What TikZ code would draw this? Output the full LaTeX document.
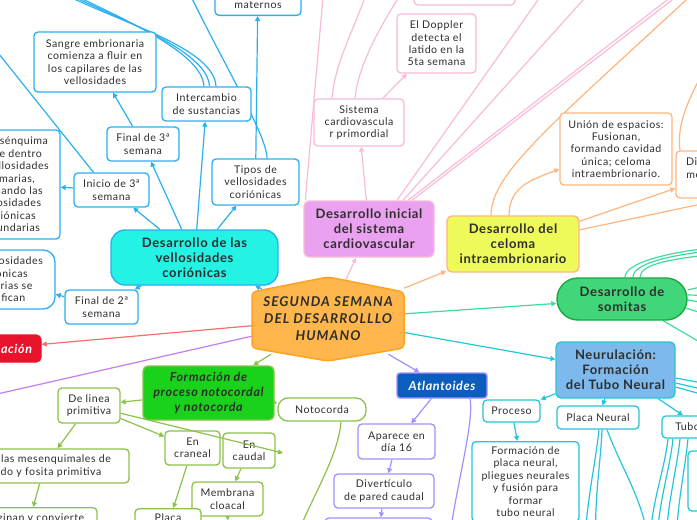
\documentclass[tikz,border=0pt]{standalone}
\usepackage{fontspec}
\setmainfont{Lato}[LetterSpace=5]
\usetikzlibrary{arrows.meta,calc,backgrounds}
\definecolor{txt}{HTML}{2E2E2E}
\definecolor{cblue}{HTML}{2AB0F0}
\definecolor{vellf}{HTML}{23F2E4}
\definecolor{cpink}{HTML}{F8BBD9}
\definecolor{cardf}{HTML}{EAA2F0}
\definecolor{corange}{HTML}{FFB57E}
\definecolor{celf}{HTML}{EEFA5A}
\definecolor{cteal}{HTML}{3DDC9E}
\definecolor{somf}{HTML}{42D67A}
\definecolor{somd}{HTML}{1BA83C}
\definecolor{ccyan}{HTML}{26C6DA}
\definecolor{neurf}{HTML}{7DB9EC}
\definecolor{clav}{HTML}{A290FF}
\definecolor{atlf}{HTML}{0B5EBE}
\definecolor{cgreen}{HTML}{8BC34A}
\definecolor{notof}{HTML}{1AD21A}
\definecolor{credl}{HTML}{F2706A}
\definecolor{redf}{HTML}{E8132B}
\definecolor{cpurp}{HTML}{C67CF5}
\definecolor{cenf}{HTML}{FFB74D}
\definecolor{cend}{HTML}{FFA21F}
\newcommand\fsmall{\fontsize{10.6}{12.4}\selectfont}
\newcommand\fbig{\fontsize{13}{15}\selectfont\bfseries}
\newcommand\fital{\fontsize{12.5}{15}\selectfont\bfseries\itshape}
\newcommand\fcen{\fontsize{13.5}{17}\selectfont\addfontfeatures{LetterSpace=8}\bfseries\itshape}
\begin{document}
\begin{tikzpicture}[x=1pt,y=-1pt,
 bx/.style={draw=#1, rounded corners=4pt, line width=1.3pt, fill=white, align=center, font=\fsmall, text=txt, inner sep=0pt},
 hd/.style 2 args={draw=#2, fill=#1, rounded corners=5pt, line width=1.4pt, align=center, font=\fbig, text=txt, inner sep=0pt},
 ln/.style={draw=#1, line width=1.2pt},
 arr/.style={-{Triangle[length=5pt,width=5pt]}},
]
\useasboundingbox (0,0) rectangle (697,520);
\clip (0,0) rectangle (697,520);

% ---------- central ----------
\draw[fill=cenf, draw=cend, line width=1.5pt, rounded corners=4pt]
  (252,292) -- (328,277) -- (404,292) -- (404,348) -- (328,361) -- (252,348) -- cycle;
\node[align=center, font=\fcen, text=txt, minimum width=152pt, minimum height=70pt, inner sep=0pt] (central) at (328,319)
  {SEGUNDA SEMANA\\DEL DESARROLLLO\\HUMANO};

% ---------- vellosidades (blue) ----------
\node[hd={vellf}{cblue}, rounded corners=14pt, minimum width=167pt, minimum height=55pt] (vell) at (194.5,257.5) {Desarrollo de las\\vellosidades\\coriónicas};
\node[bx=cblue, anchor=south, minimum width=86pt, minimum height=56pt] (mat) at (258,16) {};
\node[font=\fsmall, text=txt, inner sep=0pt] (matt) at (258,5) {maternos};
\node[bx=cblue, minimum width=122pt, minimum height=60pt] (sangre) at (95,62) {Sangre embrionaria\\comienza a fluir en\\los capilares de las\\vellosidades};
\node[bx=cblue, minimum width=89pt, minimum height=34pt] (inter) at (206.5,104) {Intercambio\\de sustancias};
\node[bx=cblue, minimum width=72pt, minimum height=34pt] (fin3) at (143,144) {Final de 3ª\\semana};
\node[bx=cblue, minimum width=87pt, minimum height=46pt] (tipos) at (255.5,182) {Tipos de\\vellosidades\\coriónicas};
\node[bx=cblue, minimum width=75pt, minimum height=34pt] (ini3) at (111.5,190) {Inicio de 3ª\\semana};
\node[bx=cblue, minimum width=100pt, minimum height=109pt] (mes) at (10,184.5) {El mesénquima\\crece dentro\\de vellosidades\\primarias,\\formando las\\vellosidades\\coriónicas\\secundarias};
\node[bx=cblue, rounded corners=12pt, minimum width=106pt, minimum height=59pt] (mes2) at (2,279.5) {Las vellosidades\\coriónicas\\primarias se\\ramifican};
\node[bx=cblue, minimum width=73pt, minimum height=34pt] (fin2) at (101.5,307) {Final de 2ª\\semana};

% ---------- cardiovascular (pink) ----------
\node[hd={cardf}{cpink}, minimum width=130pt, minimum height=56pt] (cardio) at (369,229) {Desarrollo inicial\\del sistema\\cardiovascular};
\node[bx=cpink, minimum width=90pt, minimum height=47pt] (sist) at (359,122.5) {Sistema\\cardiovascula\\r primordial};
\node[bx=cpink, minimum width=79pt, minimum height=59pt] (dop) at (436.5,43.5) {El Doppler\\detecta el\\latido en la\\5ta semana};
\node[bx=cpink, minimum width=101pt, minimum height=45pt] (ptop) at (464.5,-17.5) {};

% ---------- celoma (orange) ----------
\node[hd={celf}{corange}, minimum width=132pt, minimum height=56pt] (celoma) at (513,244) {Desarrollo del\\celoma\\intraembrionario};
\node[bx=corange, minimum width=112pt, minimum height=72pt] (union) at (616,149) {Unión de espacios:\\Fusionan,\\formando cavidad\\única; celoma\\intraembrionario.};
\node[bx=corange, minimum width=80pt, minimum height=47pt] (div) at (716,174.5) {División del\\mesodermo\\lateral};

% ---------- somitas ----------
\node[hd={somf}{somd}, rounded corners=21pt, minimum width=130pt, minimum height=42pt] (som) at (622,299) {Desarrollo de\\somitas};

% ---------- neurulacion (cyan) ----------
\node[hd={neurf}{ccyan}, minimum width=119pt, minimum height=56pt] (neuro) at (615.5,370) {Neurulación:\\Formación\\del Tubo Neural};
\node[bx=ccyan, minimum width=82pt, minimum height=23pt] (placa) at (598,417.5) {Placa Neural};
\node[bx=ccyan, minimum width=88pt, minimum height=22pt] (tubo) at (706,427) {Tubo Neural};
\node[bx=ccyan, minimum width=57pt, minimum height=22pt] (proc) at (511.5,411) {Proceso};
\node[bx=ccyan, anchor=north, minimum width=107pt, inner ysep=5pt] (form) at (525.5,441) {Formación de\\placa neural,\\pliegues neurales\\y fusión para\\formar\\tubo neural};
\node[bx=ccyan, minimum width=72pt, minimum height=60pt] (rbox) at (724,481) {};

% ---------- atlantoides (lavender) ----------
\node[hd={atlf}{clav}, rounded corners=3pt, text=white, font=\fital, minimum width=90pt, minimum height=25pt] (atl) at (442,385.5) {Atlantoides};
\node[bx=clav, minimum width=77pt, minimum height=35pt] (apa) at (396.5,441.5) {Aparece en\\día 16};
\node[bx=clav, minimum width=100pt, minimum height=34pt] (dive) at (384,491) {Divertículo\\de pared caudal};
\node[bx=clav, minimum width=107pt, minimum height=42pt] (abox) at (378.5,539) {};

% ---------- notocordal (green) ----------
\node[hd={notof}{cgreen}, font=\fital, minimum width=131pt, minimum height=54pt] (noto) at (208.5,393) {Formación de\\proceso notocordal\\y notocorda};
\node[bx=cgreen, minimum width=62pt, minimum height=35pt] (delin) at (89,405.5) {De linea\\primitiva};
\node[bx=cgreen, rounded corners=10pt, minimum width=88pt, minimum height=23pt] (notoc) at (322,409.5) {Notocorda};
\node[bx=cgreen, minimum width=55pt, minimum height=34pt] (cran) at (192.5,448) {En\\craneal};
\node[bx=cgreen, minimum width=52pt, minimum height=35pt] (caud) at (249,450.5) {En\\caudal};
\node[bx=cgreen, minimum width=169pt, minimum height=34pt] (celu) at (44.5,466) {Células mesenquimales de\\nodo y fosita primitiva};
\node[bx=cgreen, minimum width=71pt, minimum height=34pt] (memb) at (227.5,499) {Membrana\\cloacal};
\node[bx=cgreen, anchor=north, minimum width=134pt, inner ysep=6pt] (invag) at (30,507) {Invaginan y convierte};
\node[bx=cgreen, anchor=north, minimum width=66pt, inner ysep=5pt] (placab) at (168,508) {Placa\\precordal};
\node[bx=cgreen, minimum width=96pt, minimum height=48pt] (membelow) at (228,545) {};
\coordinate (pt) at (283,453);

% ---------- red ----------
\node[hd={redf}{redf}, text=white, font=\fital, minimum width=92pt, minimum height=27pt] (red) at (-5,348.5) {Gastrulación};

% off-canvas ends
\coordinate (o1) at (-45,-1);
\coordinate (o2) at (60,-12);
\coordinate (o2b) at (62,-9);
\coordinate (o2c) at (64,-6);
\coordinate (o3) at (181,-25);
\coordinate (p1) at (324,-15);
\coordinate (p2) at (370,-20);
\coordinate (p3) at (405,-12);
\coordinate (p4) at (552,-20);
\coordinate (p5) at (601,-20);
\coordinate (p6) at (693,-20);
\coordinate (p7) at (698,-20);
\coordinate (q1) at (800,183);
\coordinate (q2) at (740,-50);
\coordinate (q3) at (720,40);
\coordinate (pl) at (-60,407);
\coordinate (l1) at (447,560);
\coordinate (g1) at (288,560);

\begin{pgfonlayer}{background}
\fill[white] (0,0) rectangle (697,520);
% blue
\draw[ln=cblue,arr] ($(central.north west)+(10,5)$) -- (vell);
\draw[ln=cblue,arr] (vell) -- (ini3);
\draw[ln=cblue,arr] (vell) -- (fin3);
\draw[ln=cblue,arr] (vell) -- (inter);
\draw[ln=cblue,arr] (vell) -- (tipos);
\draw[ln=cblue,arr] (vell) -- (fin2);
\draw[ln=cblue,arr] (ini3) -- (mes);
\draw[ln=cblue,arr] (fin2) -- (mes2);
\draw[ln=cblue,arr] (fin3) -- (sangre);
\draw[ln=cblue,arr] (tipos) -- (mat);
\draw[ln=cblue] ([xshift=-18pt]ini3.north) -- (o1);
\draw[ln=cblue] ([xshift=-2.5pt]inter.north) .. controls +(-2,-35) and +(60,30) .. (o2);
\draw[ln=cblue] ([xshift=3pt]inter.north) .. controls +(-2,-36) and +(60,30) .. (o2b);
\draw[ln=cblue] ([xshift=9.5pt]inter.north) .. controls +(-2,-38) and +(60,30) .. (o2c);
\draw[ln=cblue] ([xshift=11.5pt]tipos.north) .. controls +(0,-25) and +(34,75) .. (o3);
% pink
\draw[ln=cpink,arr] (central) -- (cardio);
\draw[ln=cpink,arr] (cardio) -- (sist);
\draw[ln=cpink,arr] (sist) -- (dop);
\draw[ln=cpink] ([xshift=2pt]cardio.north west) -- (p1);
\draw[ln=cpink] ([xshift=-27pt]sist.north) .. controls +(3,-40) and +(-10,40) .. (p2);
\draw[ln=cpink] ([xshift=-4pt]sist.north) .. controls +(3,-35) and +(-20,30) .. (p3);
\draw[ln=cpink] ([xshift=28pt]cardio.north) -- (p4);
\draw[ln=cpink] ([xshift=34pt]cardio.north) -- (p5);
\draw[ln=cpink] ([xshift=39pt]cardio.north) -- (p6);
\draw[ln=cpink] ([xshift=43pt]cardio.north) -- (p7);
% orange
\draw[ln=corange,arr] (central) -- (celoma);
\draw[ln=corange,arr] ([xshift=-4pt]celoma.north) .. controls +(0,-30) and +(-25,10) .. ([yshift=-20pt]union.west);
\draw[ln=corange,arr] (celoma) -- (div);
\draw[ln=corange] (celoma) -- (q1);
\draw[ln=corange] ([xshift=-22pt]celoma.north) .. controls +(0,-45) and +(-180,168) .. (q2);
\draw[ln=corange] ([xshift=-36pt]div.north) .. controls +(-5,-35) and +(-20,40) .. (q3);
% teal
\draw[ln=cteal,arr] (central) -- (som);
\draw[ln=cteal] ([xshift=3pt]som.north) .. controls +(0,-15) and +(-60,5) .. (730,246);
\draw[ln=cteal] ([xshift=11pt]som.north) .. controls +(0,-14) and +(-60,5) .. (730,249);
\draw[ln=cteal] ([xshift=18pt]som.north) .. controls +(0,-13) and +(-60,5) .. (730,253);
\draw[ln=cteal] ([yshift=9pt]som.east) -- (730,280);
\draw[ln=cteal] ([yshift=4pt]som.east) -- (730,296);
\draw[ln=cteal] ([yshift=-1pt]som.east) -- (733,308);
\draw[ln=cteal] ([xshift=-2pt,yshift=-9pt]som.east) -- (730,322);
\draw[ln=cteal] ([xshift=41pt]som.south) -- (760,377);
% cyan
\draw[ln=ccyan,arr] (central) -- (neuro);
\draw[ln=ccyan,arr] (neuro) -- (proc);
\draw[ln=ccyan,arr] (neuro) -- (placa);
\draw[ln=ccyan,arr] (neuro) -- ([xshift=-23pt]tubo.north);
\draw[ln=ccyan,arr] (proc) -- (form);
\draw[ln=ccyan] ([yshift=-8pt]neuro.east) -- (740,390);
\draw[ln=ccyan] ([yshift=-13pt]neuro.east) -- (740,398);
\draw[ln=ccyan] ([yshift=-17pt]neuro.east) -- (740,405);
\draw[ln=ccyan] ([xshift=1pt]placa.south) .. controls +(-3,30) and +(2,-40) .. (585,540);
\draw[ln=ccyan] ([xshift=4pt]placa.south) .. controls +(-1,30) and +(-2,-40) .. (596,540);
\draw[ln=ccyan] ([xshift=9pt]placa.south) .. controls +(15,40) and +(-5,-40) .. (648,540);
\draw[ln=ccyan] ([xshift=-38pt]tubo.south) .. controls +(-3,30) and +(2,-40) .. (650,540);
\draw[ln=ccyan] ([xshift=-33pt]tubo.south) .. controls +(-3,30) and +(2,-40) .. (657,540);
\draw[ln=ccyan] ([xshift=-26pt]tubo.south) .. controls +(-3,30) and +(2,-40) .. (666,540);
\draw[ln=ccyan] ([xshift=-18pt]tubo.south) .. controls +(-3,30) and +(2,-40) .. (676,540);
% lavender
\draw[ln=clav,arr] (central) -- (atl);
\draw[ln=clav,arr] (atl) -- (apa);
\draw[ln=clav,arr] (apa) -- (dive);
\draw[ln=clav,arr] (dive) -- (abox);
\draw[ln=clav] ([xshift=28pt]atl.south) .. controls +(5,25) and +(5,-60) .. (l1);
% purple, red
\draw[ln=cpurp] (central) -- (pl);
\draw[ln=credl,arr] (central) -- (red);
% green
\draw[ln=cgreen,arr] (central) -- (noto);
\draw[ln=cgreen,arr] (noto) -- (delin);
\draw[ln=cgreen,arr] (noto) -- (notoc);
\draw[ln=cgreen,arr] (delin) -- (celu);
\draw[ln=cgreen,arr] (delin) -- (cran);
\draw[ln=cgreen,arr] (caud) -- (memb);
\draw[ln=cgreen,arr] (cran) -- (placab);
\draw[ln=cgreen,arr] (celu) -- (invag);
\draw[ln=cgreen,arr] (memb) -- (membelow);
\draw[ln=cgreen] ([xshift=19pt]notoc.south) .. controls +(-3,40) and +(15,-50) .. (g1);
\end{pgfonlayer}
\draw[ln=cgreen,arr] (delin) -- (pt);
\end{tikzpicture}
\end{document}
